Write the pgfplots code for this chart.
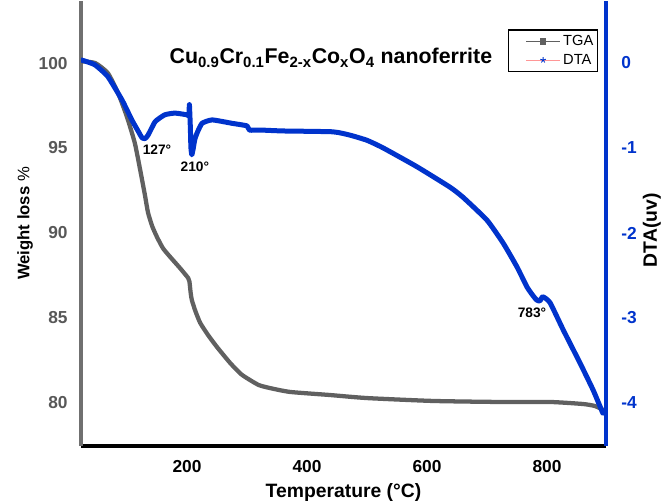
\documentclass[border=0pt]{standalone}
\usepackage{fontspec}
\setmainfont{Liberation Sans}
\usepackage{pgfplots}
\pgfplotsset{compat=1.18}
\definecolor{dtablue}{RGB}{0,51,204}
\definecolor{tgagray}{RGB}{96,96,96}
\definecolor{axgray}{RGB}{112,112,112}
\definecolor{lblgray}{RGB}{88,88,88}
\definecolor{legpink}{RGB}{255,150,150}
\begin{document}
\begin{tikzpicture}
\useasboundingbox (-60.75pt,-42.75pt) rectangle (436.5pt,334.5pt);
\begin{axis}[
  at={(0pt,0pt)}, anchor=south west, scale only axis,
  width=393.75pt, height=333.75pt,
  xmin=23.3, xmax=898.3, ymin=77.47, ymax=103.65,
  axis x line*=bottom, axis y line*=left,
  x axis line style={black, line width=3pt, -},
  y axis line style={axgray, line width=3pt, -},
  major tick length=0pt,
  xtick={200,400,600,800}, xticklabels={200,400,600,800},
  ytick={80,85,90,95,100}, yticklabels={80,85,90,95,100},
  xticklabel style={font=\fontsize{13}{15}\selectfont\bfseries, text=black, yshift=-7pt},
  yticklabel style={font=\fontsize{13}{15}\selectfont\bfseries, text=lblgray, xshift=-6.5pt},
  xlabel={\textbf{Temperature (°C)}},
  xlabel style={at={(axis description cs:0.5,-0.1034)}, anchor=center, font=\fontsize{14.5}{16}\selectfont},
  ylabel={\textbf{Weight loss} \%},
  ylabel style={at={(axis description cs:-0.1067,0.5)}, anchor=center, font=\fontsize{12.5}{14}\selectfont},
]
\addplot[tgagray, line width=3.2pt, line join=round, line cap=round, smooth, tension=0.35] table {
T W
25 100.1
47 100.0
68 99.41
85 98.24
100 96.82
113 95.29
122 93.7
130 92.2
135 91.2
142 90.4
150 89.76
160 89.1
172 88.59
188 87.95
202 87.35
204 87.15
206 86.5
208 86.06
214 85.4
222 84.71
235 84.0
250 83.29
272 82.35
290 81.7
305 81.35
320 81.05
338 80.88
372 80.65
438 80.47
500 80.29
610 80.12
722 80.06
805 80.06
860 79.94
880 79.82
893 79.6
};
\end{axis}
\begin{axis}[
  at={(0pt,0pt)}, anchor=south west, scale only axis,
  width=393.75pt, height=333.75pt,
  xmin=23.3, xmax=898.3, ymin=-4.506, ymax=0.729,
  axis x line=none, axis y line*=right,
  y axis line style={dtablue, line width=3pt, -},
  major tick length=0pt,
  ytick={-4,-3,-2,-1,0}, yticklabels={-4,-3,-2,-1,0},
  yticklabel style={font=\fontsize{13}{15}\selectfont\bfseries, text=dtablue, xshift=8pt},
  ylabel={\textbf{DTA(uv)}},
  ylabel style={at={(axis description cs:1.0876,0.485)}, anchor=center, font=\fontsize{14.5}{16}\selectfont},
  legend image code/.code={\path (-12pt,0pt); \draw[mark repeat=2,mark phase=2,#1] plot coordinates {(0pt,0pt) (12.75pt,0pt) (25.5pt,0pt)};},
  legend style={at={(axis description cs:0.985,0.937)}, anchor=north east, draw=black, line width=1.2pt,
    font=\fontsize{11}{13}\selectfont, inner xsep=1pt, inner ysep=2pt, row sep=1pt, cells={anchor=west}},
]
\addlegendimage{tgagray, line width=0.6pt, mark=square*, mark size=2pt, mark options={fill=tgagray, line width=0.6pt}}
\addlegendentry{TGA}
\addlegendimage{legpink, line width=0.6pt, mark=star, mark size=2.2pt, mark options={dtablue, line width=0.6pt}}
\addlegendentry{DTA}
\addplot[dtablue, line width=3.75pt, line join=round, line cap=round, smooth, tension=0.3] table {
T D
24 0.035
46 -0.02
68 -0.16
92 -0.44
108 -0.67
120 -0.82
125 -0.88
130 -0.89
135 -0.85
147 -0.69
163 -0.61
180 -0.59
200 -0.61
203 -0.62
204 -0.49
205.5 -0.75
206.5 -1.0
208 -1.08
210 -1.02
213 -0.9
217 -0.82
225 -0.71
242 -0.67
275 -0.71
300 -0.74
304 -0.79
325 -0.79
360 -0.80
443 -0.81
472 -0.85
500 -0.91
527 -1.0
583 -1.22
638 -1.46
660 -1.58
700 -1.85
727 -2.12
750 -2.40
767 -2.64
778 -2.75
783 -2.79
788 -2.80
793 -2.75
805 -2.82
827 -3.14
855 -3.53
877 -3.85
893 -4.12
};
\node[font=\fontsize{10.3}{12}\selectfont\bfseries] at (axis cs:150,-1.02) {127°};
\node[font=\fontsize{10.3}{12}\selectfont\bfseries] at (axis cs:213,-1.22) {210°};
\node[font=\fontsize{10.3}{12}\selectfont\bfseries] at (axis cs:775,-2.94) {783°};
\node[font=\fontsize{16}{18}\selectfont\bfseries] at (axis description cs:0.476,0.872)
  {Cu\textsubscript{0.9}Cr\textsubscript{0.1}Fe\textsubscript{2-x}Co\textsubscript{x}O\textsubscript{4} nanoferrite};
\end{axis}
\end{tikzpicture}
\end{document}
